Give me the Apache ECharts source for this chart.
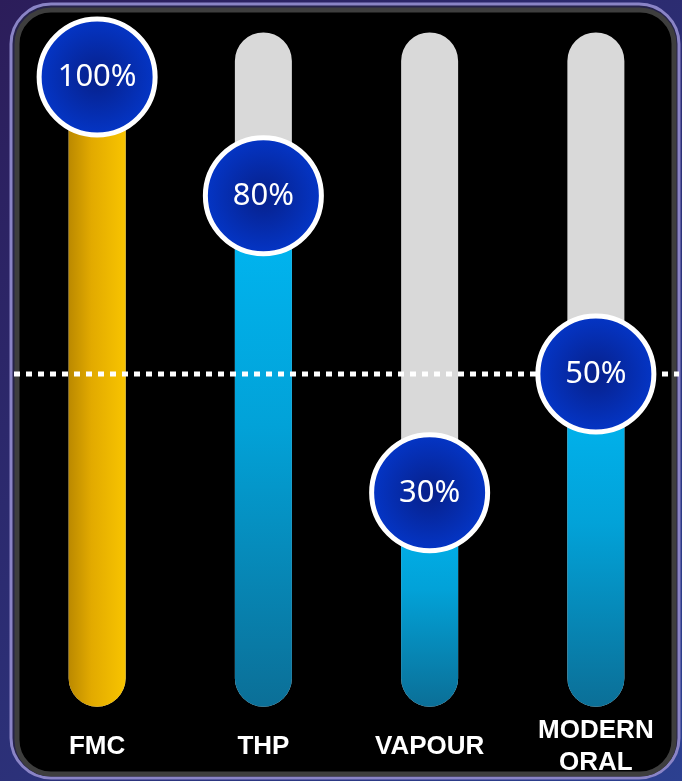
<!DOCTYPE html>
<html>
<head>
<meta charset="utf-8">
<script src="https://cdn.jsdelivr.net/npm/echarts@6/dist/echarts.min.js"></script>
<style>
  html, body { margin: 0; padding: 0; background: #000; }
  #main { width: 682px; height: 781px; }
</style>
</head>
<body>
<div id="main"></div>
<script>
// ---- data ----
var categories = ['FMC', 'THP', 'VAPOUR', 'MODERN\nORAL'];
var shares = [100, 80, 30, 50];
var referenceLevel = [50];

// track runs a little past 0..100 on both ends
var trackMin = -6;
var trackMax = 107.5;

var chartDom = document.getElementById('main');
var myChart = echarts.init(chartDom);

var goldFill = new echarts.graphic.LinearGradient(0, 0, 1, 0, [
    { offset: 0, color: '#bb8900' },
    { offset: 0.4, color: '#e2aa00' },
    { offset: 1, color: '#f8c400' }
]);
var blueFill = new echarts.graphic.LinearGradient(0, 0, 0, 1, [
    { offset: 0, color: '#00b8f4' },
    { offset: 0.45, color: '#02a2d8' },
    { offset: 1, color: '#0b6f97' }
]);

function renderBar(params, api) {
    var idx = api.value(0);
    var val = api.value(1);
    var bottom = api.coord([idx, trackMin]);
    var top = api.coord([idx, trackMax]);
    var lvl = api.coord([idx, val]);
    var w = 57;
    var r = w / 2;
    return {
        type: 'group',
        children: [{
            type: 'rect',
            shape: { x: bottom[0] - r, y: top[1], width: w, height: bottom[1] - top[1], r: r },
            style: { fill: '#d9d9d9' }
        }, {
            type: 'rect',
            shape: { x: bottom[0] - r, y: lvl[1], width: w, height: bottom[1] - lvl[1], r: r },
            style: { fill: idx === 0 ? goldFill : blueFill }
        }]
    };
}

function renderRefLine(params, api) {
    var cs = params.coordSys;
    var p = api.coord([0, api.value(0)]);
    return {
        type: 'line',
        shape: { x1: cs.x, y1: p[1], x2: cs.x + cs.width, y2: p[1] },
        style: { stroke: '#ffffff', lineWidth: 5, lineDash: [6, 6] }
    };
}

var option = {
    animation: false,
    graphic: [{
        type: 'rect',
        shape: { x: 0, y: 0, width: 682, height: 781 },
        style: {
            fill: new echarts.graphic.LinearGradient(0, 0, 1, 1, [
                { offset: 0, color: '#2c1d5a' },
                { offset: 1, color: '#2c4090' }
            ])
        }
    }, {
        type: 'rect',
        shape: { x: 11, y: 4, width: 668, height: 774, r: 40 },
        style: { fill: '#26234a', stroke: '#8a84c6', lineWidth: 3 }
    }, {
        type: 'rect',
        shape: { x: 17, y: 10, width: 657, height: 764, r: 34 },
        style: { fill: '#000000', stroke: '#3e3e3e', lineWidth: 5 }
    }],
    grid: { left: 14, right: 3, top: 77, bottom: 110 },
    xAxis: {
        type: 'category',
        data: categories,
        axisLine: { show: false },
        axisTick: { show: false },
        splitLine: { show: false },
        axisLabel: {
            interval: 0,
            color: '#ffffff',
            fontSize: 26,
            fontWeight: 'bold',
            fontFamily: 'Liberation Sans',
            lineHeight: 32,
            margin: 76,
            verticalAlign: 'middle'
        }
    },
    yAxis: {
        type: 'value',
        min: 0,
        max: 100,
        show: false
    },
    series: [{
        type: 'custom',
        z: 2,
        renderItem: renderBar,
        data: shares.map(function (v, i) { return [i, v]; })
    }, {
        type: 'custom',
        z: 3,
        renderItem: renderRefLine,
        data: referenceLevel.map(function (v) { return [v]; })
    }, {
        type: 'scatter',
        z: 4,
        symbol: 'circle',
        symbolSize: 116,
        data: shares,
        emphasis: { disabled: true },
        itemStyle: {
            opacity: 1,
            color: new echarts.graphic.RadialGradient(0.5, 0.5, 0.5, [
                { offset: 0, color: '#07208a' },
                { offset: 1, color: '#0436c8' }
            ]),
            borderColor: '#ffffff',
            borderWidth: 5
        },
        label: {
            show: true,
            position: 'inside',
            formatter: '{c}%',
            color: '#ffffff',
            fontSize: 31,
            fontFamily: 'Noto Sans'
        }
    }]
};
option && myChart.setOption(option);
</script>
</body>
</html>
